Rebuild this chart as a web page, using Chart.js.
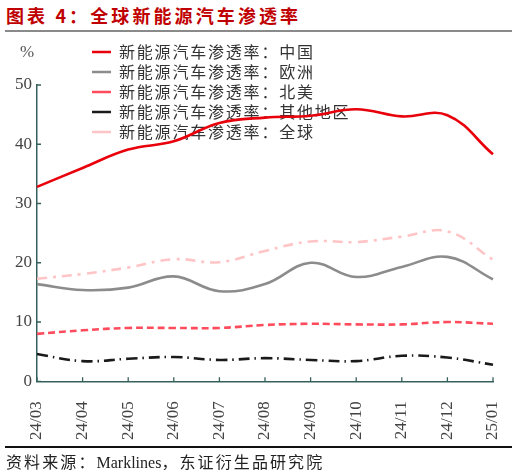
<!DOCTYPE html>
<html>
<head>
<meta charset="utf-8">
<script src="https://cdn.jsdelivr.net/npm/chart.js@4/dist/chart.umd.min.js"></script>
<style>
  html, body { margin: 0; padding: 0; background: #fff; width: 517px; height: 475px; overflow: hidden; }
  #title { position: absolute; left: 6px; top: 5px; font-family: "Noto Sans CJK SC", sans-serif; font-weight: bold; font-size: 18px; line-height: 20px; letter-spacing: 3.1px; color: #c00000; white-space: nowrap; }
  #rule1 { position: absolute; left: 5px; top: 30px; width: 507px; height: 2px; background: #8a8a8a; }
  #wrap { position: absolute; left: 0; top: 33px; width: 517px; height: 427px; }
  #pct { position: absolute; left: 20px; top: 42px; font-family: "Liberation Serif", serif; font-size: 17px; color: #555; }
  #rule2 { position: absolute; left: 5px; top: 446px; width: 507px; height: 1.5px; background: #111; }
  #src { position: absolute; left: 6px; top: 452px; font-family: "Noto Sans CJK SC", sans-serif; font-size: 16px; line-height: 19px; letter-spacing: 2.1px; color: #222; white-space: nowrap; }
  #src .en { font-family: "Liberation Serif", serif; font-size: 16px; letter-spacing: 0; }
</style>
</head>
<body>
<div id="title">图表 4：全球新能源汽车渗透率</div>
<div id="rule1"></div>
<div id="wrap"><canvas id="c"></canvas></div>
<div id="pct">%</div>
<div id="rule2"></div>
<div id="src">资料来源：<span class="en">Marklines</span>，东证衍生品研究院</div>
<script>
const categories = ["24/03","24/04","24/05","24/06","24/07","24/08","24/09","24/10","24/11","24/12","25/01"];
const seriesNames = ["新能源汽车渗透率：中国","新能源汽车渗透率：欧洲","新能源汽车渗透率：北美","新能源汽车渗透率：其他地区","新能源汽车渗透率：全球"];
const chinaValues  = [32.8, 36.0, 39.1, 40.5, 43.6, 44.5, 44.8, 45.9, 44.7, 44.9, 38.3];
const europeValues = [16.4, 15.4, 15.8, 17.7, 15.2, 16.4, 20.0, 17.6, 19.3, 21.0, 17.2];
const naValues     = [8.0, 8.6, 9.0, 9.0, 9.0, 9.5, 9.7, 9.6, 9.6, 10.0, 9.7];
const otherValues  = [4.6, 3.4, 3.8, 4.1, 3.6, 3.9, 3.6, 3.4, 4.3, 4.0, 2.8];
const globalValues = [17.3, 18.1, 19.2, 20.6, 20.1, 22.0, 23.6, 23.5, 24.4, 25.3, 20.5];
const yTicks = [0, 10, 20, 30, 40, 50];

const axisColor = '#35605c';

const legendSpacing = {
  id: 'legendSpacing',
  afterLayout(chart) {
    const lg = chart.legend;
    if (lg) { lg.left = 88; lg.top = 7; }
  },
  beforeDraw(chart) { chart.ctx.letterSpacing = '1.8px'; },
  beforeDatasetsDraw(chart) { chart.ctx.letterSpacing = '0px'; }
};

const innerTicks = {
  id: 'innerTicks',
  afterDraw(chart) {
    const ctx = chart.ctx, x = chart.scales.x, y = chart.scales.y;
    const a = chart.chartArea;
    ctx.save();
    ctx.letterSpacing = '0px';
    ctx.strokeStyle = axisColor;
    ctx.lineWidth = 1.3;
    ctx.beginPath();
    x.ticks.forEach((t, i) => {
      const px = x.getPixelForTick(i);
      ctx.moveTo(px, a.bottom); ctx.lineTo(px, a.bottom - 4);
    });
    y.ticks.forEach((t, i) => {
      const py = y.getPixelForTick(i);
      ctx.moveTo(a.left, py); ctx.lineTo(a.left + 4, py);
    });
    ctx.stroke();
    ctx.restore();
  }
};

function ds(label, data, color, dash) {
  return { label, data, borderColor: color, backgroundColor: color, borderWidth: 2.6,
    borderDash: dash, pointRadius: 0, pointHoverRadius: 0, tension: 0.4, fill: false };
}

new Chart(document.getElementById('c'), {
  type: 'line',
  data: {
    labels: categories,
    datasets: [
      ds(seriesNames[0], chinaValues, '#e8000b', []),
      ds(seriesNames[1], europeValues, '#8c8c8c', []),
      ds(seriesNames[2], naValues, '#ff4b5c', [7, 4]),
      ds(seriesNames[3], otherValues, '#1a1a1a', [11, 5, 1.5, 5]),
      ds(seriesNames[4], globalValues, '#ffc4c6', [10, 6, 3, 6])
    ]
  },
  options: {
    responsive: true,
    maintainAspectRatio: false,
    animation: false,
    layout: { padding: { left: 10, right: 24, top: 52, bottom: 0 } },
    plugins: {
      title: { display: false },
      tooltip: { enabled: false },
      legend: {
        display: true,
        position: 'chartArea',
        align: 'start',
        labels: {
          usePointStyle: true,
          pointStyle: 'line',
          pointStyleWidth: 19,
          padding: 4,
          color: '#333',
          font: { family: '"Noto Sans CJK SC", sans-serif', size: 16 }
        }
      }
    },
    scales: {
      x: {
        type: 'category',
        offset: false,
        afterFit(scale) { scale.paddingLeft = 0; scale.paddingRight = 0; },
        grid: { display: true, drawOnChartArea: false, drawTicks: false },
        border: { display: true, color: axisColor, width: 1.5 },
        ticks: {
          minRotation: 90, maxRotation: 90, padding: 20, autoSkip: false, z: 1,
          color: '#444', font: { family: '"Liberation Serif", serif', size: 17 }
        }
      },
      y: {
        min: 0, max: 50,
        afterBuildTicks(scale) { scale.ticks = yTicks.map(v => ({ value: v })); },
        grid: { display: true, drawOnChartArea: false, drawTicks: false },
        border: { display: true, color: axisColor, width: 1.5 },
        ticks: {
          padding: 5, z: 1,
          color: '#444', font: { family: '"Liberation Serif", serif', size: 17 }
        }
      }
    }
  },
  plugins: [legendSpacing, innerTicks]
});
</script>
</body>
</html>
